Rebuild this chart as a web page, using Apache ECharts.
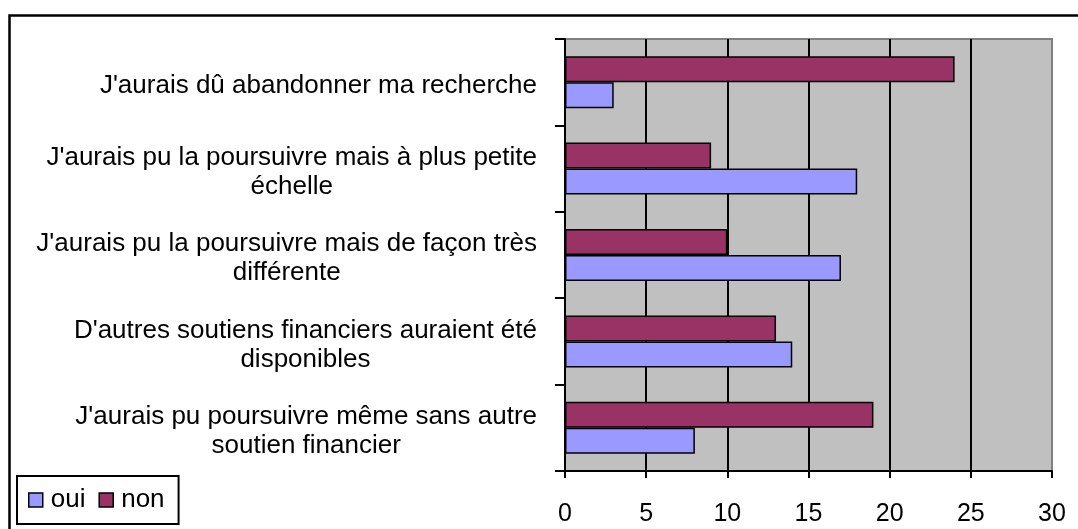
<!DOCTYPE html>
<html>
<head>
<meta charset="utf-8">
<style>
  html, body { margin: 0; padding: 0; background: #ffffff; }
  #chart { width: 1078px; height: 529px; }
</style>
<script src="https://cdn.jsdelivr.net/npm/echarts@6/dist/echarts.min.js"></script>
</head>
<body>
<div id="chart"></div>
<script>
// Categories listed from the bottom of the chart upward
const categories = [
  "J'aurais pu poursuivre même sans autre\nsoutien financier",
  "D'autres soutiens financiers auraient été\ndisponibles",
  "J'aurais pu la poursuivre mais de façon très\ndifférente",
  "J'aurais pu la poursuivre mais à plus petite\néchelle",
  "J'aurais dû abandonner ma recherche"
];
const seriesNames = ['oui', 'non'];
const ouiValues = [8, 14, 17, 18, 3];
const nonValues = [19, 13, 10, 9, 24];
const xTicks = [0, 5, 10, 15, 20, 25, 30];

const FONT = '"Liberation Sans", Arial, sans-serif';

const chart = echarts.init(document.getElementById('chart'), null, { renderer: 'canvas' });

chart.setOption({
  animation: false,
  backgroundColor: '#ffffff',
  textStyle: { fontFamily: FONT },
  graphic: [{
    type: 'rect',
    z: 100,
    silent: true,
    shape: { x: 9.5, y: 15.5, width: 1200, height: 700 },
    style: { fill: 'none', stroke: '#000000', lineWidth: 2.5 }
  }],
  grid: {
    left: 565,
    right: 26,
    top: 39,
    bottom: 58,
    show: true,
    backgroundColor: '#c0c0c0',
    borderColor: '#808080',
    borderWidth: 2
  },
  legend: {
    left: 17,
    top: 476,
    orient: 'horizontal',
    data: seriesNames,
    icon: 'rect',
    itemWidth: 14,
    itemHeight: 14,
    itemGap: 13,
    padding: [11, 14, 11, 11],
    borderColor: '#000000',
    borderWidth: 2,
    backgroundColor: '#ffffff',
    textStyle: { fontFamily: FONT, fontSize: 26, color: '#000000', padding: [0, 0, 0, 3] },
    itemStyle: { borderColor: '#000000', borderWidth: 1.5 }
  },
  xAxis: {
    type: 'value',
    min: xTicks[0],
    max: xTicks[xTicks.length - 1],
    interval: xTicks[1] - xTicks[0],
    axisLine: { show: true, onZero: false, lineStyle: { color: '#000000', width: 2 } },
    axisTick: { show: true, length: 7, lineStyle: { color: '#000000', width: 2 } },
    axisLabel: {
      margin: 31,
      fontFamily: FONT,
      fontSize: 25,
      color: '#000000',
      formatter: v => String(v)
    },
    splitLine: {
      show: true,
      lineStyle: {
        width: 2,
        color: ['#000000', '#000000', '#000000', '#000000', '#000000', '#000000', '#808080']
      }
    }
  },
  yAxis: {
    type: 'category',
    data: categories,
    axisLine: { show: true, lineStyle: { color: '#000000', width: 2 } },
    axisTick: { show: true, length: 10, lineStyle: { color: '#000000', width: 2 } },
    splitLine: { show: false },
    axisLabel: {
      margin: 28,
      padding: [7, 0, 0, 0],
      fontFamily: FONT,
      fontSize: 26,
      color: '#000000',
      lineHeight: 29,
      formatter: v => v.split('\n').map(l => '{c|' + l + '}').join('\n'),
      rich: {
        c: { align: 'center', fontFamily: FONT, fontSize: 26, lineHeight: 29, color: '#000000' }
      }
    }
  },
  // "non" is listed first so that it sits above "oui" inside each category band
  series: [
    {
      name: seriesNames[1],
      type: 'bar',
      data: nonValues,
      barWidth: 26,
      barGap: '0%',
      itemStyle: { color: '#993366', borderColor: '#000000', borderWidth: 1.5 }
    },
    {
      name: seriesNames[0],
      type: 'bar',
      data: ouiValues,
      barWidth: 26,
      barGap: '0%',
      itemStyle: { color: '#9999ff', borderColor: '#000000', borderWidth: 1.5 }
    }
  ]
});
</script>
</body>
</html>
